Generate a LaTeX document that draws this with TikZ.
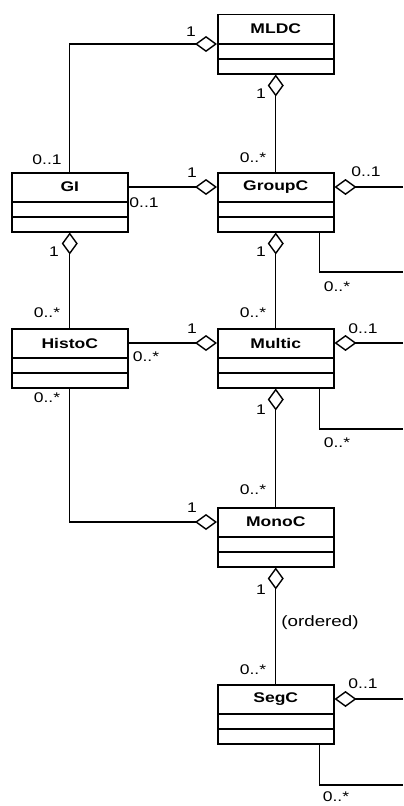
\documentclass[tikz,border=0pt]{standalone}
\usepackage{fontspec}
\setmainfont{Liberation Sans}[FakeStretch=1.25]
\usetikzlibrary{arrows.meta,calc}
\tikzset{
  cls/.style={draw, line width=1.5bp, minimum width=116bp, minimum height=59bp, inner sep=0pt, anchor=north west},
  cname/.style={font=\fontsize{14bp}{16bp}\selectfont\bfseries, inner sep=0pt},
  mult/.style={font=\fontsize{14bp}{16bp}\selectfont, inner sep=0pt},
  conn/.style={line width=1.4bp},
  agg/.style={conn, -{Diamond[fill=white, length=22bp, width=16bp, line width=1.4bp]}},
  divider/.style={line width=1.5bp}
}
\newcommand\umlcls[3]{%
  \node[cls] (#1) at (#2) {};
  \node[cname] (#1t) at ($(#1.north)+(0,15)$) {#3};
  \draw[divider] ($(#1.north west)+(0,30)$) -- ($(#1.north east)+(0,30)$);
  \draw[divider] ($(#1.north west)+(0,45)$) -- ($(#1.north east)+(0,45)$);
}
\begin{document}
\begin{tikzpicture}[x=1bp,y=-1bp]
\fill[white] (0,0) rectangle (403,806);
\useasboundingbox (0,0) rectangle (403,806);

\umlcls{MLDC}{217,14}{MLDC}
\umlcls{GI}{11,172}{GI}
\umlcls{GroupC}{217,172}{GroupC}
\umlcls{HistoC}{11,328}{HistoC}
\umlcls{Multic}{217,328}{Multic}
\umlcls{MonoC}{217,507}{MonoC}
\umlcls{SegC}{217,684}{SegC}

\coordinate (gR1) at (403,187);
\coordinate (gR2) at (403,272);
\coordinate (mR1) at (403,343);
\coordinate (mR2) at (403,429);
\coordinate (sR1) at (403,699);
\coordinate (sR2) at (403,785);

% connectors
\draw[agg] (GI.north) |- ($(MLDC.north west)+(0,30)$);
\draw[agg] (GroupC.north) -- (MLDC.south);
\draw[agg] ($(GI.north east)+(0,15)$) -- ($(GroupC.north west)+(0,15)$);
\draw[agg] (gR1) -- ($(GroupC.north east)+(0,15)$);
\draw[conn] ($(GroupC.south east)+(-15,0)$) |- (gR2);
\draw[agg] (HistoC.north) -- (GI.south);
\draw[agg] (Multic.north) -- (GroupC.south);
\draw[agg] ($(HistoC.north east)+(0,15)$) -- ($(Multic.north west)+(0,15)$);
\draw[agg] (mR1) -- ($(Multic.north east)+(0,15)$);
\draw[conn] ($(Multic.south east)+(-15,0)$) |- (mR2);
\draw[agg] (HistoC.south) |- ($(MonoC.north west)+(0,15)$);
\draw[agg] (MonoC.north) -- (Multic.south);
\draw[agg] (SegC.north) -- (MonoC.south);
\draw[agg] (sR1) -- ($(SegC.north east)+(0,15)$);
\draw[conn] ($(SegC.south east)+(-15,0)$) |- (sR2);

% multiplicities
\node[mult] (m1) at (191,32) {1};
\node[mult] (m2) at (47,160) {0..1};
\node[mult] (m3) at (261,94) {1};
\node[mult] (m4) at (253,158) {0..*};
\node[mult] (m5) at (192,173) {1};
\node[mult] (m6) at (144,203) {0..1};
\node[mult] (m7) at (366,172) {0..1};
\node[mult] (m8) at (54,252) {1};
\node[mult] (m9) at (261,252) {1};
\node[mult] (m10) at (337,287) {0..*};
\node[mult] (m11) at (47,313) {0..*};
\node[mult] (m12) at (253,313) {0..*};
\node[mult] (m13) at (192,329) {1};
\node[mult] (m14) at (146,357) {0..*};
\node[mult] (m15) at (363,329) {0..1};
\node[mult] (m16) at (47,398) {0..*};
\node[mult] (m17) at (261,410) {1};
\node[mult] (m18) at (337,443) {0..*};
\node[mult] (m19) at (253,490) {0..*};
\node[mult] (m20) at (192,508) {1};
\node[mult] (m21) at (261,590) {1};
\node[mult, font=\fontsize{15bp}{17bp}\selectfont] (ord) at (320,623) {(ordered)};
\node[mult] (m22) at (253,670) {0..*};
\node[mult] (m23) at (363,684) {0..1};
\node[mult] (m24) at (336,797) {0..*};
\end{tikzpicture}
\end{document}
